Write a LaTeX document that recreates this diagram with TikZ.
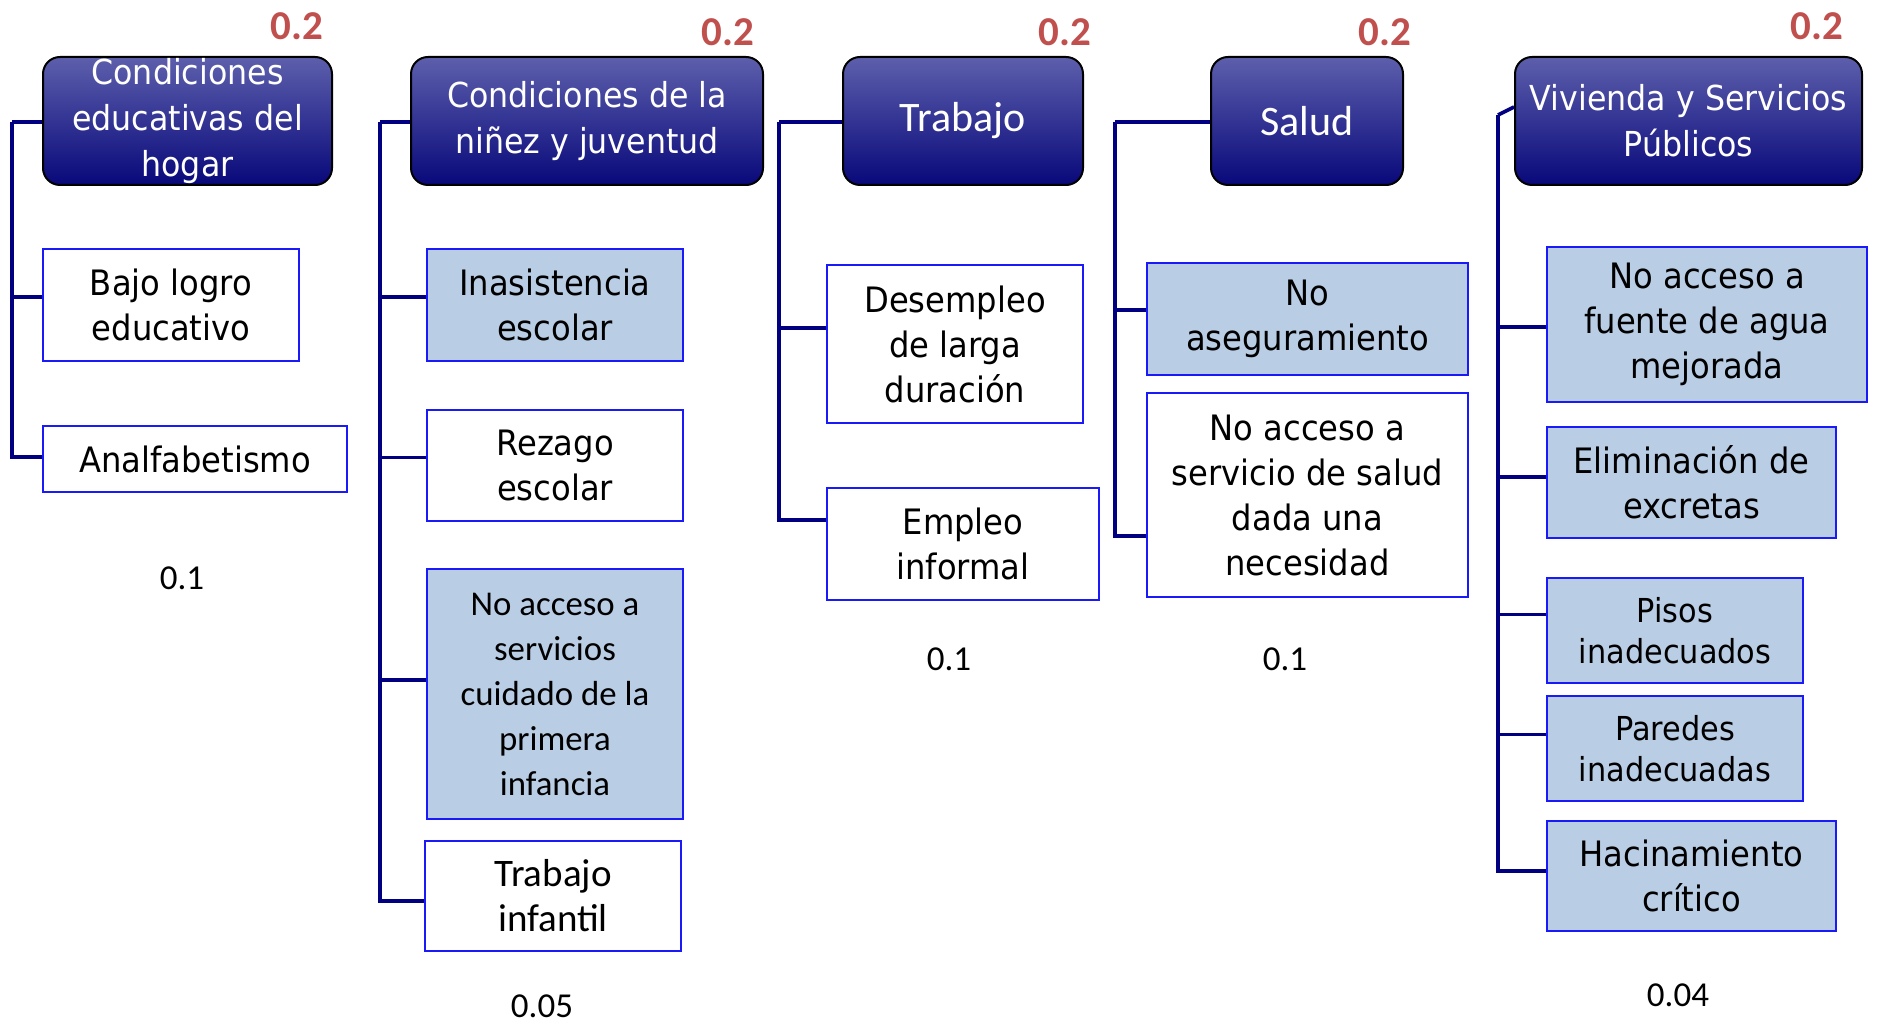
\documentclass[tikz,border=0pt]{standalone}
\usepackage{fontspec}
\setmainfont{Carlito}
\newfontfamily\tahfam{DejaVu Sans}[FakeStretch=0.92]
\definecolor{navy}{RGB}{0,0,128}
\definecolor{boxblue}{RGB}{25,25,250}
\definecolor{leaffill}{RGB}{185,205,229}
\definecolor{hdrtop}{RGB}{93,95,172}
\definecolor{hdrbot}{RGB}{8,8,122}
\definecolor{wred}{RGB}{192,80,77}
\newcommand\tahtxt{\tahfam\fontsize{17.5}{22.5}\selectfont}
\newcommand\caltxt{\fontsize{17.4}{22.5}\selectfont}

\begin{document}
\begin{tikzpicture}[
  x=0.5pt, y=-0.5pt,
  sz/.style 2 args={minimum width=#1*0.5pt, minimum height=#2*0.5pt},
  hdr/.style={draw=black, line width=1pt, rounded corners=8.5pt,
    top color=hdrtop, bottom color=hdrbot, text=white, align=center,
    inner sep=0pt, font=\tahfam\fontsize{17.2}{23}\selectfont},
  leaf/.style={draw=boxblue, line width=1pt, fill=white, align=center,
    inner sep=0pt, font=\tahtxt},
  leafb/.style={leaf, fill=leaffill},
  conn/.style={navy, line width=1.8pt},
  wt/.style={text=wred, font=\bfseries\fontsize{20.5}{24}\selectfont},
  total/.style={font=\fontsize{17.5}{20}\selectfont}
]
\useasboundingbox (0,0) rectangle (1883,1026);

% dimensiones
\node[hdr, sz={289}{128}] (h1) at (187.5,121) {Condiciones\\educativas del\\hogar};
\node[hdr, sz={352}{128}] (h2) at (587,121) {Condiciones de la\\niñez y juventud};
\node[hdr, sz={240}{128}, font=\fontsize{21}{24}\selectfont] (h3) at (963,121) {Trabajo};
\node[hdr, sz={192}{128}, font=\fontsize{21}{24}\selectfont] (h4) at (1307,121) {Salud};
\node[hdr, sz={347}{128}] (h5) at (1688.5,121) {Vivienda y Servicios\\Públicos};

% pesos
\node[wt] (w1) at (297,26) {0.2};
\node[wt] (w2) at (728,32) {0.2};
\node[wt] (w3) at (1065,32) {0.2};
\node[wt] (w4) at (1385,32) {0.2};
\node[wt] (w5) at (1817,26) {0.2};

% educacion
\node[leaf, sz={256}{112}] (bajo) at (171,305) {Bajo logro\\educativo};
\node[leaf, sz={304}{66}] (analf) at (195,459) {Analfabetismo};
% niñez
\node[leafb, sz={256}{112}] (inas) at (555,305) {Inasistencia\\escolar};
\node[leaf, sz={256}{111}] (rezago) at (555,465.5) {Rezago\\escolar};
\node[leafb, sz={256}{250}, font=\caltxt] (cuidado) at (555,694)
  {No acceso a\\servicios\\cuidado de la\\primera\\infancia};
\node[leaf, sz={256}{110}, font=\fontsize{19.5}{22.5}\selectfont] (infantil) at (553,896) {Trabajo\\infantil};
% trabajo
\node[leaf, sz={256}{158}] (desemp) at (955,344) {Desempleo\\de larga\\duración};
\node[leaf, sz={272}{112}] (informal) at (963,544) {Empleo\\informal};
% salud
\node[leafb, sz={321}{112}] (asegur) at (1307.5,319) {No\\aseguramiento};
\node[leaf, sz={321}{204}] (servsalud) at (1307.5,495)
  {No acceso a\\servicio de salud\\dada una\\necesidad};
% vivienda
\node[leafb, sz={320}{155}] (agua) at (1707,324.5) {No acceso a\\fuente de agua\\mejorada};
\node[leafb, sz={289}{111}] (excretas) at (1691.5,482.5) {Eliminación de\\excretas};
\node[leafb, sz={256}{105}, font=\tahfam\fontsize{16.5}{20.5}\selectfont] (pisos) at (1675,630.5) {Pisos\\inadecuados};
\node[leafb, sz={256}{105}, font=\tahfam\fontsize{16.5}{20.5}\selectfont] (paredes) at (1675,748.5) {Paredes\\inadecuadas};
\node[leafb, sz={289}{110}] (hacin) at (1691.5,876) {Hacinamiento\\crítico};

% totales
\node[total] (t1) at (182,578) {0.1};
\node[total] (t2) at (542,1006) {0.05};
\node[total] (t3) at (949,659) {0.1};
\node[total] (t4) at (1285,659) {0.1};
\node[total] (t5) at (1678,995) {0.04};

% conectores
\coordinate (bus1) at (12,122);
\coordinate (bus2) at (380,122);
\coordinate (bus3) at (779,122);
\coordinate (bus4) at (1115,122);
\coordinate (bus5) at (1498,115);
\foreach \k in {1,...,4}
  \draw[conn] (h\k.west |- bus\k) -- (bus\k);
\draw[conn] ([yshift=7pt]h5.west) -- (bus5);
\foreach \n/\b/\dy in {bajo/1/4pt, analf/1/1pt,
    inas/2/4pt, rezago/2/4pt, cuidado/2/7pt, infantil/2/-2.5pt,
    desemp/3/8pt, informal/3/12pt,
    asegur/4/4.5pt, servsalud/4/-20.5pt,
    agua/5/-1.25pt, excretas/5/2.75pt, pisos/5/8pt, paredes/5/7pt, hacin/5/2.5pt}
  \draw[conn] (bus\b) |- ([yshift=\dy]\n.west);
\end{tikzpicture}
\end{document}
